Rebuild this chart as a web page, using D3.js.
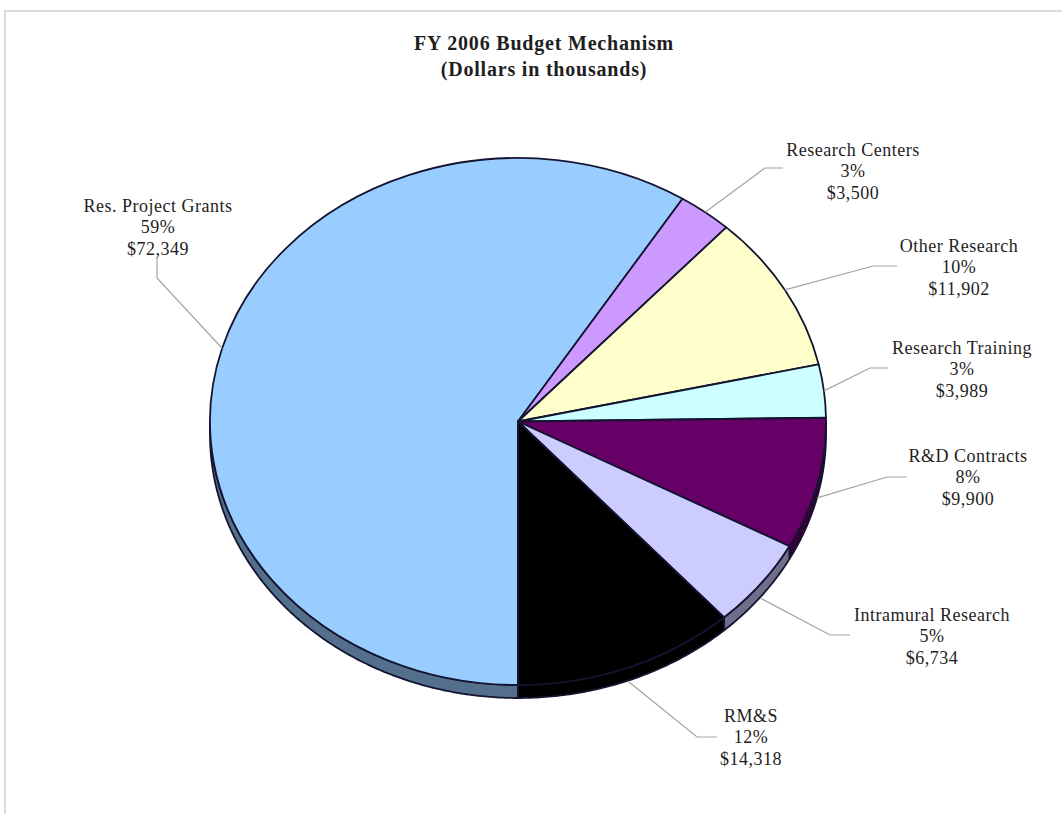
<!DOCTYPE html>
<html>
<head>
<meta charset="utf-8">
<script src="https://cdn.jsdelivr.net/npm/d3@7"></script>
<style>
  html, body { margin: 0; padding: 0; background: #ffffff; }
  svg { display: block; }
  text { font-family: "Liberation Serif", "Times New Roman", serif; fill: #1e1e1e; }
</style>
</head>
<body>
<svg id="chart" width="1062" height="814"></svg>
<script>
// ---- data ----
const categories = ["Res. Project Grants", "Research Centers", "Other Research", "Research Training", "R&D Contracts", "Intramural Research", "RM&S"];
const values = [72349, 3500, 11902, 3989, 9900, 6734, 14318];
const colors = ["#99ccff", "#cc99ff", "#ffffcc", "#ccffff", "#660066", "#ccccff", "#000000"];
const titleLines = ["FY 2006 Budget Mechanism", "(Dollars in thousands)"];

// ---- layout (label placement, not data) ----
const labelLayout = [
  { x: 158, y: 227, elbow: [157, 278], end: [157, 258] },
  { x: 853, y: 171, elbow: [765, 168], end: [783, 168] },
  { x: 959, y: 267, elbow: [873, 266], end: [897, 266] },
  { x: 962, y: 369, elbow: [870, 368], end: [888, 368] },
  { x: 968, y: 477, elbow: [887, 477], end: [907, 477] },
  { x: 932, y: 636, elbow: [830, 635], end: [850, 635] },
  { x: 751, y: 737, elbow: [697, 737], end: [717, 737] }
];

const W = 1062, H = 814;
const cx = 518, cy = 421.5, rx = 308, ry = 263.5, depth = 13;
const lineGap = 21.5;

const svg = d3.select("#chart");

// frame
svg.append("rect")
  .attr("x", 5).attr("y", 11).attr("width", 1200).attr("height", 1000)
  .attr("fill", "none").attr("stroke", "#cfcfcf").attr("stroke-width", 1.5);

// title
svg.append("g").selectAll("text").data(titleLines).join("text")
  .attr("x", 544)
  .attr("y", (d, i) => 50 + i * 26)
  .attr("text-anchor", "middle")
  .style("font-weight", "bold")
  .style("font-size", "20px")
  .style("letter-spacing", "0.8px")
  .text(d => d);

const total = d3.sum(values);
const pie = d3.pie().sort(null).startAngle(Math.PI).endAngle(3 * Math.PI);
const arcs = pie(values);

const ellPt = (a, dy) => [cx + rx * Math.sin(a), cy - ry * Math.cos(a) + dy];
const line = d3.line();

// sides (3D depth) for lower half of ellipse
const lowerIntervals = [[Math.PI, 1.5 * Math.PI], [2.5 * Math.PI, 3 * Math.PI]];
const sideG = svg.append("g");
arcs.forEach((a, i) => {
  lowerIntervals.forEach(([l0, l1]) => {
    const b0 = Math.max(a.startAngle, l0), b1 = Math.min(a.endAngle, l1);
    if (b1 <= b0) return;
    const n = Math.max(4, Math.ceil((b1 - b0) / 0.01));
    const angs = d3.range(n + 1).map(k => b0 + (b1 - b0) * k / n);
    const pts = angs.map(t => ellPt(t, 0)).concat(angs.slice().reverse().map(t => ellPt(t, depth)));
    sideG.append("path")
      .attr("d", line(pts) + "Z")
      .attr("fill", d3.color(colors[i]).darker(1.7).formatHex())
      .attr("stroke", "#141430")
      .attr("stroke-width", 1.8)
      .attr("stroke-linejoin", "round");
  });
});

// top faces
const arcGen = d3.arc().innerRadius(0).outerRadius(rx);
svg.append("g")
  .attr("transform", `translate(${cx},${cy}) scale(1,${ry / rx})`)
  .selectAll("path").data(arcs).join("path")
  .attr("d", arcGen)
  .attr("fill", (d, i) => colors[i])
  .attr("stroke", "#141430")
  .attr("stroke-width", 1.8)
  .attr("stroke-linejoin", "round")
  .attr("vector-effect", "non-scaling-stroke");

// leader lines
const fmt = d3.format(",");
const leaderG = svg.append("g");
arcs.forEach((a, i) => {
  const mid = (a.startAngle + a.endAngle) / 2;
  const lower = Math.cos(mid) < 0;
  const p0 = ellPt(mid, lower ? depth + 1 : 0);
  const L = labelLayout[i];
  leaderG.append("path")
    .attr("d", line([p0, L.elbow, L.end]))
    .attr("fill", "none")
    .attr("stroke", "#a3a3a3")
    .attr("stroke-width", 1.2);
});

// labels
const labelG = svg.append("g");
arcs.forEach((a, i) => {
  const L = labelLayout[i];
  const pct = Math.round(values[i] / total * 100) + "%";
  const lines = [categories[i], pct, "$" + fmt(values[i])];
  labelG.append("g").selectAll("text").data(lines).join("text")
    .attr("x", L.x)
    .attr("y", (d, k) => L.y + (k - 1) * lineGap)
    .attr("dy", "0.35em")
    .attr("text-anchor", "middle")
    .style("font-size", "18px")
    .style("letter-spacing", "0.5px")
    .text(d => d);
});
</script>
</body>
</html>
